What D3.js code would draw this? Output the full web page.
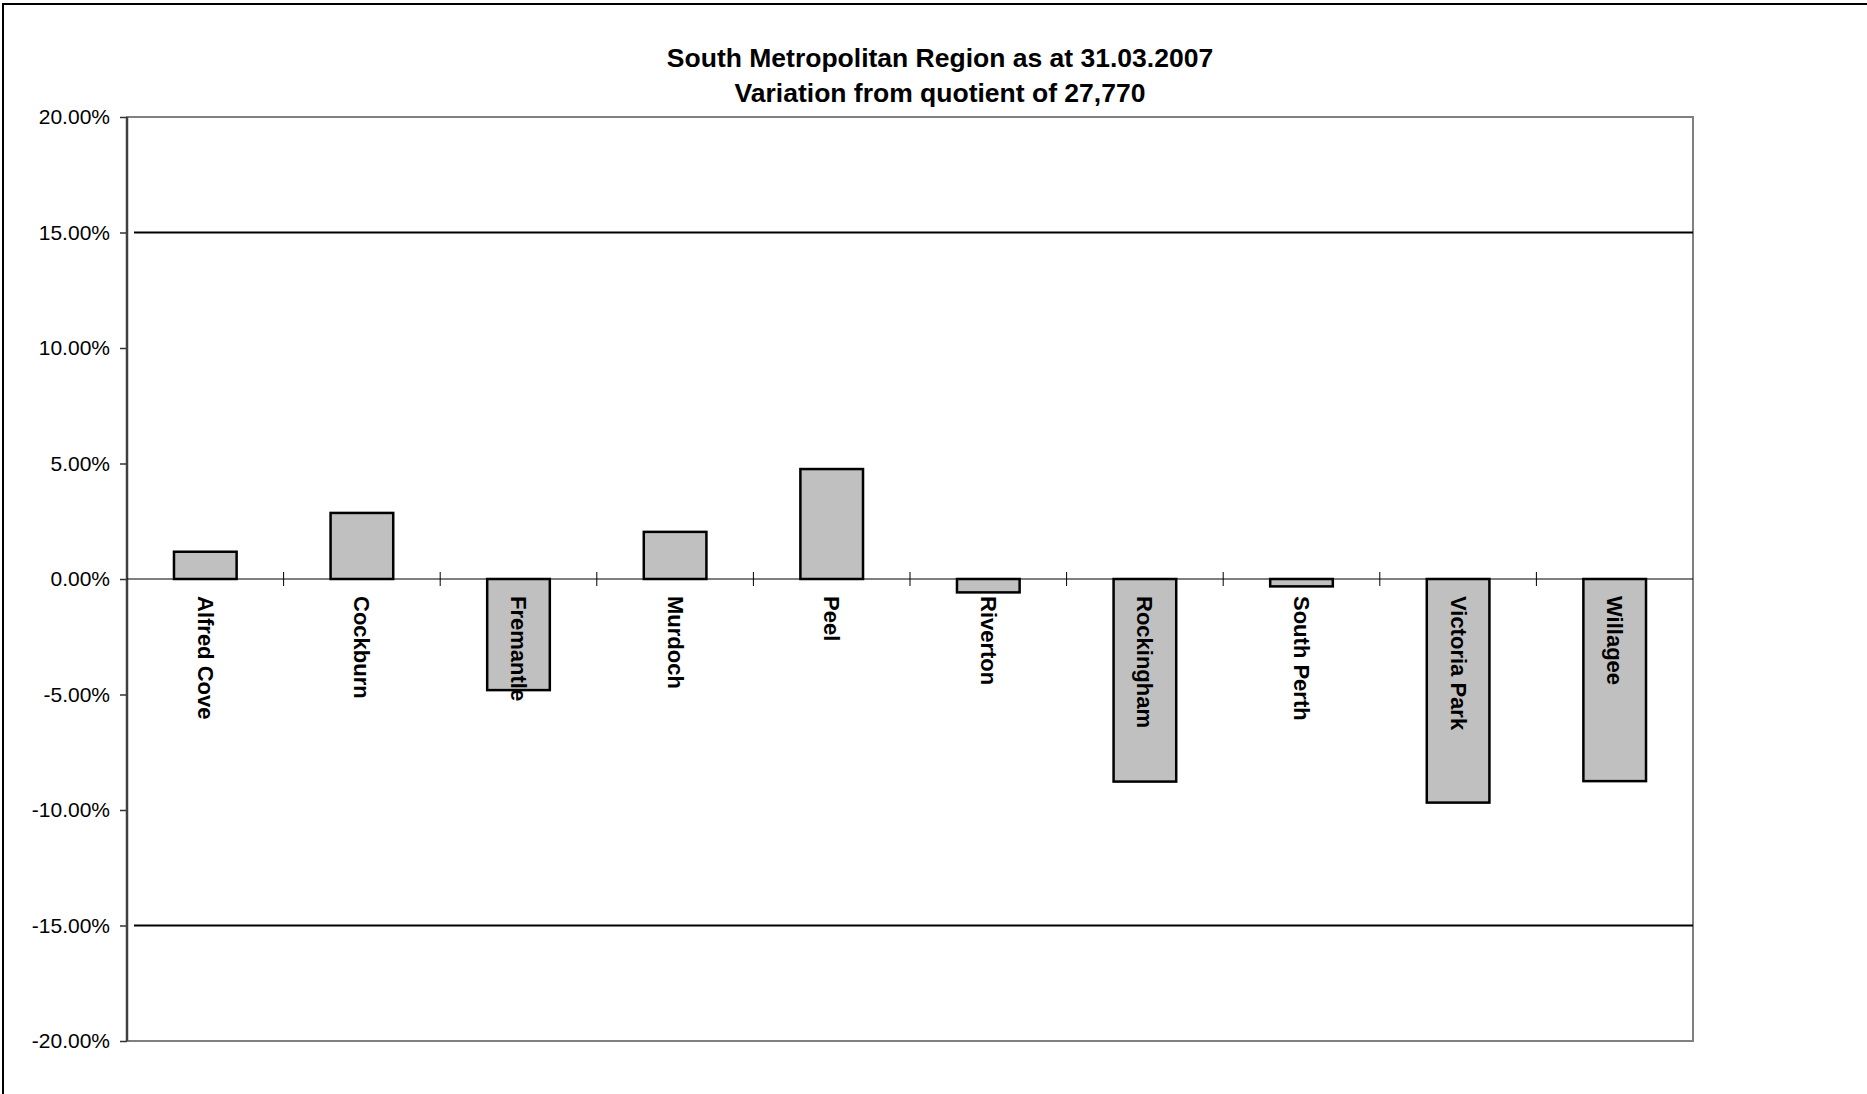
<!DOCTYPE html>
<html>
<head>
<meta charset="utf-8">
<script src="https://cdn.jsdelivr.net/npm/d3@7/dist/d3.min.js"></script>
<style>
  body { margin: 0; background: #fff; }
  svg { display: block; font-family: "Liberation Sans", Arial, sans-serif; }
  .y-axis text { font-size: 21px; fill: #000; }
  .y-axis path { display: none; }
  .cat-label { font-size: 22px; font-weight: bold; }
  .title { font-size: 26.5px; font-weight: bold; }
</style>
</head>
<body>
<svg id="chart"></svg>
<script>
'use strict';

const titleLines = ['South Metropolitan Region as at 31.03.2007', 'Variation from quotient of 27,770'];
const districts = ['Alfred Cove', 'Cockburn', 'Fremantle', 'Murdoch', 'Peel',
  'Riverton', 'Rockingham', 'South Perth', 'Victoria Park', 'Willagee'];
const variation = [1.18, 2.86, -4.81, 2.04, 4.76, -0.58, -8.77, -0.32, -9.68, -8.75];
const yTicks = [-20, -15, -10, -5, 0, 5, 10, 15, 20];
const limits = [15, -15];

const W = 1867, H = 1094;
const margin = { top: 117, right: 174, bottom: 53, left: 127 };
const width = W - margin.left - margin.right;
const height = H - margin.top - margin.bottom;

const svg = d3.select('#chart')
    .attr('width', W)
    .attr('height', H);

// outer chart frame (right and bottom edges fall outside the picture)
svg.append('rect')
    .attr('x', 3).attr('y', 4)
    .attr('width', W + 20).attr('height', H + 20)
    .attr('fill', 'none')
    .attr('stroke', '#000')
    .attr('stroke-width', 2);

svg.append('text')
    .attr('class', 'title')
    .attr('x', 940)
    .attr('y', 67)
    .attr('text-anchor', 'middle')
  .selectAll('tspan')
  .data(titleLines)
  .join('tspan')
    .attr('x', 940)
    .attr('dy', (d, i) => i ? 35 : 0)
    .text(d => d);

const graph = svg.append('g')
    .attr('transform', `translate(${margin.left}, ${margin.top})`);

const x = d3.scaleBand()
    .domain(districts)
    .range([0, width])
    .paddingInner(0.6)
    .paddingOuter(0.3);

const y = d3.scaleLinear()
    .domain([-20, 20])
    .range([height, 0]);

// plot frame
graph.append('rect')
    .attr('width', width)
    .attr('height', height)
    .attr('fill', 'none')
    .attr('stroke', '#808080')
    .attr('stroke-width', 2);

// +/- 15% limit lines
graph.selectAll('.limit')
  .data(limits)
  .join('line')
    .attr('class', 'limit')
    .attr('x1', 7)
    .attr('x2', width)
    .attr('y1', d => y(d))
    .attr('y2', d => y(d))
    .attr('stroke', '#000')
    .attr('stroke-width', 2);

const yAxis = d3.axisLeft(y)
    .tickValues(yTicks)
    .tickSize(7)
    .tickPadding(10)
    .tickFormat(d => d3.format('.2f')(d).replace('\u2212', '-') + '%');

graph.append('g')
    .attr('class', 'y-axis')
    .call(yAxis)
    .call(g => g.selectAll('.tick line').attr('stroke', '#333').attr('stroke-width', 1.5));

graph.append('line')
    .attr('x1', 0).attr('x2', 0)
    .attr('y1', 0).attr('y2', height)
    .attr('stroke', '#404040')
    .attr('stroke-width', 2.5);

graph.selectAll('.bar')
  .data(variation)
  .join('rect')
    .attr('class', 'bar')
    .attr('x', (d, i) => x(districts[i]))
    .attr('width', x.bandwidth())
    .attr('y', d => y(Math.max(0, d)))
    .attr('height', d => Math.abs(y(d) - y(0)))
    .attr('fill', '#c0c0c0')
    .attr('stroke', '#000')
    .attr('stroke-width', 2.5);

// category axis at zero
const step = x.step();
graph.append('line')
    .attr('x1', 0).attr('x2', width)
    .attr('y1', y(0)).attr('y2', y(0))
    .attr('stroke', '#000')
    .attr('stroke-width', 1.2);

graph.selectAll('.xtick')
  .data(districts.slice(1))
  .join('line')
    .attr('class', 'xtick')
    .attr('x1', d => x(d) - step * 0.3)
    .attr('x2', d => x(d) - step * 0.3)
    .attr('y1', y(0) - 7)
    .attr('y2', y(0) + 7)
    .attr('stroke', '#000')
    .attr('stroke-width', 1);

graph.selectAll('.cat-label')
  .data(districts)
  .join('text')
    .attr('class', 'cat-label')
    .attr('transform', d => `translate(${x(d) + x.bandwidth() / 2}, ${y(0) + 17}) rotate(90)`)
    .attr('dominant-baseline', 'central')
    .text(d => d);
</script>
</body>
</html>
